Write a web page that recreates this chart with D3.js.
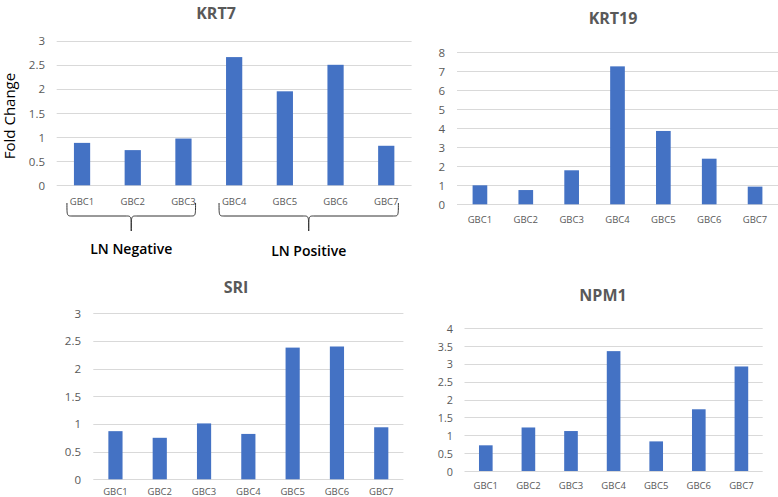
<!DOCTYPE html>
<html>
<head>
<meta charset="utf-8">
<script src="https://cdn.jsdelivr.net/npm/d3@7"></script>
<style>
  html, body { margin: 0; padding: 0; background: #fff; }
  svg { display: block; }
</style>
</head>
<body>
<svg id="chart" width="778" height="497"></svg>
<script>
// ---------- DATA ----------
const categories = ["GBC1", "GBC2", "GBC3", "GBC4", "GBC5", "GBC6", "GBC7"];
const krt7Values  = [0.88, 0.73, 0.97, 2.66, 1.95, 2.50, 0.82];
const krt19Values = [1.00, 0.75, 1.79, 7.26, 3.86, 2.40, 0.93];
const sriValues   = [0.87, 0.75, 1.01, 0.82, 2.38, 2.40, 0.94];
const npm1Values  = [0.72, 1.22, 1.12, 3.36, 0.83, 1.73, 2.93];
const ticksHalfTo3 = [0, 0.5, 1, 1.5, 2, 2.5, 3];
const ticksTo8     = [0, 1, 2, 3, 4, 5, 6, 7, 8];
const ticksHalfTo4 = [0, 0.5, 1, 1.5, 2, 2.5, 3, 3.5, 4];
const groups = [
  { label: "LN Negative",  from: "GBC1", to: "GBC3" },
  { label: "LN  Positive", from: "GBC4", to: "GBC7" }
];
const yAxisTitle = "Fold Change";

// ---------- LAYOUT ----------
const panels = [
  { title: "KRT7",  values: krt7Values,  ticks: ticksHalfTo3, max: 3,
    x0: 56.7, x1: 411.6, y0: 185.3, y1: 40.7, tickRight: 45, tickSize: 11.5,
    xLabelY: 201, titleX: 216, titleY: 13 },
  { title: "KRT19", values: krt19Values, ticks: ticksTo8, max: 8,
    x0: 457, x1: 778, y0: 204.3, y1: 52.3, tickRight: 445, tickSize: 11.5,
    xLabelY: 219, titleX: 613, titleY: 18 },
  { title: "SRI",   values: sriValues,   ticks: ticksHalfTo3, max: 3,
    x0: 93.3, x1: 403.4, y0: 479.3, y1: 313.3, tickRight: 81, tickSize: 11.5,
    xLabelY: 491.8, titleX: 236, titleY: 287 },
  { title: "NPM1",  values: npm1Values,  ticks: ticksHalfTo4, max: 4,
    x0: 464.5, x1: 762.7, y0: 471, y1: 328.3, tickRight: 453, tickSize: 10.8,
    xLabelY: 485.7, titleX: 603, titleY: 295 }
];

const FONT = "'Open Sans', 'Noto Sans', sans-serif";
const BAR = "#4472C4";
const GRID = "#d9d9d9";
const TXT = "#595959";

const svg = d3.select("#chart");
const scales = [];

panels.forEach((p, i) => {
  const x = d3.scaleBand().domain(categories).range([p.x0, p.x1])
    .paddingInner(0.68).paddingOuter(0.34);
  const y = d3.scaleLinear().domain([0, p.max]).range([p.y0, p.y1]);
  scales.push({ x, y });
  const g = svg.append("g");

  // gridlines
  g.selectAll("line.grid").data(p.ticks).join("line")
    .attr("x1", p.x0).attr("x2", p.x1)
    .attr("y1", d => Math.round(y(d)) + 0.5).attr("y2", d => Math.round(y(d)) + 0.5)
    .attr("stroke", GRID).attr("stroke-width", 1);

  // y tick labels
  g.selectAll("text.yt").data(p.ticks).join("text")
    .attr("x", p.tickRight).attr("y", d => y(d))
    .attr("text-anchor", "end").attr("dominant-baseline", "central")
    .attr("font-family", FONT).attr("font-size", p.tickSize).attr("fill", TXT)
    .text(d => d3.format("~g")(d));

  // bars
  g.selectAll("rect.bar").data(p.values).join("rect")
    .attr("x", (d, j) => x(categories[j]))
    .attr("width", x.bandwidth())
    .attr("y", d => y(d))
    .attr("height", d => y(0) - y(d))
    .attr("fill", BAR);

  // x labels
  g.selectAll("text.xt").data(categories).join("text")
    .attr("x", d => x(d) + x.bandwidth() / 2).attr("y", p.xLabelY)
    .attr("text-anchor", "middle").attr("dominant-baseline", "central")
    .attr("font-family", FONT).attr("font-size", 9.5).attr("fill", TXT)
    .text(d => d);

  // title
  g.append("text")
    .attr("x", p.titleX).attr("y", p.titleY)
    .attr("text-anchor", "middle").attr("dominant-baseline", "central")
    .attr("font-family", FONT).attr("font-size", 16).attr("font-weight", "bold")
    .attr("fill", TXT).text(p.title);
});

// y axis title on first panel
svg.append("text")
  .attr("transform", "translate(8.5,116) rotate(-90)")
  .attr("text-anchor", "middle").attr("dominant-baseline", "central")
  .attr("font-family", FONT).attr("font-size", 15).attr("fill", "#000")
  .text(yAxisTitle);

// braces for LN groups under first panel
const s0 = scales[0];
const yTop = 203, yMid = 216, yTip = 231;
groups.forEach((gr, k) => {
  const xa = s0.x(gr.from) - 7;
  const xb = s0.x(gr.to) + s0.x.bandwidth() + 4;
  const xc = (xa + xb) / 2;
  const r = 5;
  const path = `M${xa},${yTop} C${xa},${yMid} ${xa},${yMid} ${xa + r},${yMid} L${xc - r},${yMid} C${xc},${yMid} ${xc},${yMid} ${xc},${yTip} ` +
               `M${xc},${yTip} C${xc},${yMid} ${xc},${yMid} ${xc + r},${yMid} L${xb - r},${yMid} C${xb},${yMid} ${xb},${yMid} ${xb},${yTop}`;
  svg.append("path").attr("d", path).attr("fill", "none")
    .attr("stroke", "#333").attr("stroke-width", 1);
  svg.append("text")
    .attr("x", xc).attr("y", k === 0 ? 254 : 255.5)
    .attr("text-anchor", "middle")
    .attr("font-family", FONT).attr("font-size", 14).attr("font-weight", 600)
    .attr("fill", "#000").text(gr.label);
});
</script>
</body>
</html>
